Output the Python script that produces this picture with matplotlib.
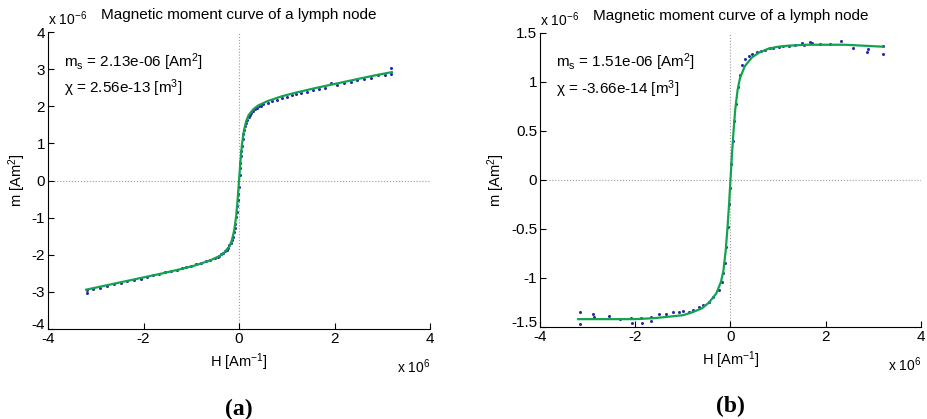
import matplotlib
matplotlib.use("Agg")
import matplotlib.pyplot as plt
from matplotlib.transforms import ScaledTranslation

# H in units of 1e6 A/m, m in units of 1e-6 Am^2

# panel (a): measured points
h_a = [-3.18, -3.18, -3.05, -2.92, -2.77, -2.62, -2.48, -2.34, -2.2, -2.06, -1.93,
       -1.8, -1.68, -1.55, -1.42, -1.3, -1.2, -1.1, -1.0, -0.9, -0.8, -0.7, -0.6,
       -0.5, -0.41, -0.33, -0.26, -0.2, -0.15, -0.11, -0.08, -0.05, -0.03, -0.01,
       0.01, 0.03, 0.05, 0.08, 0.11, 0.15, 0.2, 0.26, 0.33, 0.41, 0.5, 0.6, 0.7,
       0.8, 0.9, 1.0, 1.1, 1.2, 1.3, 1.42, 1.55, 1.68, 1.8, 1.93, 2.06, 2.2, 2.34,
       2.48, 2.62, 2.77, 2.92, 3.05, 3.18, 3.18,
       -0.45, -0.37, -0.29, -0.23, -0.17, -0.13, -0.09, -0.06, -0.04, -0.02,
       0.02, 0.04, 0.06, 0.09, 0.13, 0.17, 0.23, 0.29, 0.37, 0.45]
m_a = [-3.02, -2.94, -2.92, -2.89, -2.85, -2.80, -2.75, -2.72, -2.67, -2.64, -2.60,
       -2.55, -2.52, -2.47, -2.44, -2.40, -2.37, -2.33, -2.30, -2.26, -2.22, -2.18, -2.14,
       -2.09, -2.03, -1.96, -1.86, -1.74, -1.60, -1.40, -1.18, -0.85, -0.52, -0.18,
       0.15, 0.48, 0.80, 1.13, 1.36, 1.55, 1.70, 1.82, 1.92, 2.00, 2.05, 2.10, 2.14,
       2.18, 2.22, 2.26, 2.29, 2.32, 2.36, 2.39, 2.43, 2.47, 2.50, 2.62, 2.58, 2.63, 2.65,
       2.71, 2.73, 2.77, 2.84, 2.85, 3.02, 2.86,
       -2.07, -1.99, -1.90, -1.81, -1.67, -1.52, -1.28, -0.98, -0.69, -0.36,
       0.33, 0.65, 0.94, 1.24, 1.48, 1.62, 1.77, 1.87, 1.96, 2.02]

# panel (a): fitted curve
hf_a = [-3.2, -2.8, -2.4, -2.0, -1.6, -1.2, -0.9, -0.6, -0.4, -0.3, -0.2, -0.15,
        -0.1, -0.06, -0.03, 0.0, 0.03, 0.06, 0.1, 0.15, 0.2, 0.3, 0.4, 0.6, 0.9,
        1.2, 1.6, 2.0, 2.4, 2.8, 3.2]
mf_a = [-2.94, -2.83, -2.72, -2.61, -2.50, -2.38, -2.28, -2.15, -2.03, -1.93, -1.77, -1.61,
        -1.34, -0.96, -0.53, 0.0, 0.52, 0.95, 1.33, 1.60, 1.76, 1.92, 2.02, 2.14, 2.27,
        2.37, 2.49, 2.60, 2.71, 2.82, 2.92]

# panel (b): measured points
h_b = [-3.17, -3.17, -2.88, -2.86, -2.56, -2.32, -2.09, -2.07, -1.88, -1.85, -1.67,
       -1.67, -1.51, -1.36, -1.21, -1.09, -0.99, -0.88, -0.78, -0.67, -0.57, -0.46,
       -0.36, -0.25, -0.18, -0.15, -0.12, -0.09, -0.06, -0.03, -0.01,
       0.02, 0.05, 0.08, 0.11, 0.15, 0.19, 0.25, 0.31, 0.38, 0.46, 0.55, 0.64, 0.73,
       0.82, 0.9, 1.01, 1.11, 1.23, 1.36, 1.51, 1.55, 1.68, 1.72, 1.88, 2.09, 2.32,
       2.58, 2.86, 2.88, 3.2, 3.2]
m_b = [-1.35, -1.47, -1.37, -1.40, -1.39, -1.42, -1.41, -1.46, -1.41, -1.46, -1.40,
       -1.44, -1.37, -1.37, -1.35, -1.35, -1.34, -1.35, -1.33, -1.30, -1.28, -1.24,
       -1.19, -1.12, -1.04, -0.95, -0.85, -0.68, -0.48, -0.24, -0.08,
       0.16, 0.40, 0.60, 0.78, 0.95, 1.07, 1.17, 1.23, 1.27, 1.29, 1.31, 1.32, 1.33,
       1.35, 1.35, 1.36, 1.37, 1.37, 1.38, 1.40, 1.38, 1.41, 1.40, 1.39, 1.39, 1.42,
       1.35, 1.31, 1.34, 1.37, 1.29]

# panel (b): fitted curve
hf_b = [-3.2, -2.8, -2.4, -2.0, -1.6, -1.2, -1.0, -0.8, -0.6, -0.45, -0.3, -0.2,
        -0.15, -0.1, -0.06, -0.03, 0.0, 0.03, 0.06, 0.1, 0.15, 0.2, 0.3, 0.45, 0.6,
        0.8, 1.0, 1.2, 1.6, 2.0, 2.4, 2.8, 3.2]
mf_b = [-1.42, -1.42, -1.42, -1.42, -1.41, -1.39, -1.38, -1.35, -1.31, -1.25, -1.16, -1.04,
        -0.93, -0.72, -0.47, -0.25, 0.0, 0.25, 0.47, 0.72, 0.92, 1.04, 1.16, 1.25, 1.30,
        1.34, 1.36, 1.37, 1.38, 1.38, 1.38, 1.37, 1.36]

title = "Magnetic moment curve of a lymph node"
xticks = [-4, -2, 0, 2, 4]
yticks_a = [-4, -3, -2, -1, 0, 1, 2, 3, 4]
yticks_b = [-1.5, -1, -0.5, 0, 0.5, 1, 1.5]
ylabels_b = ["-1.5", "-1", "-0.5", "0", "0.5", "1", "1.5"]

plt.rcParams["font.family"] = ["Liberation Sans", "DejaVu Sans"]
plt.rcParams["mathtext.default"] = "regular"

DOT = "#2a2aa8"
FIT = "#12a34f"

fig = plt.figure(figsize=(9.27, 4.19), dpi=100)


def panel(rect, h, m, hf, mf, yticks, ylabels, ylim, ms_txt, chi_txt, tag):
    ax = fig.add_axes(rect)
    ax.axvline(0, color="#999999", linestyle=":", linewidth=0.8, zorder=1)
    ax.axhline(0, color="#999999", linestyle=":", linewidth=0.8, zorder=1)
    ax.plot(h, m, linestyle="none", marker="o", markersize=2.2, color=DOT,
            markeredgewidth=0, zorder=2)
    ax.plot(hf, mf, color=FIT, linewidth=1.6, zorder=3)
    ax.set_xlim(-4, 4)
    ax.set_ylim(*ylim)
    ax.set_xticks(xticks)
    ax.set_xticklabels([str(t) for t in xticks])
    ax.set_yticks(yticks)
    ax.set_yticklabels(ylabels)
    for s in ("top", "right"):
        ax.spines[s].set_visible(False)
    for s in ("left", "bottom"):
        ax.spines[s].set_linewidth(0.8)
    ax.tick_params(direction="in", length=4, width=0.8, labelsize=11, pad=2)
    # lowest y label sits a little above the corner, as in the original
    low = ax.get_yticklabels()[0]
    low.set_transform(low.get_transform()
                      + ScaledTranslation(0, 4 / 72, fig.dpi_scale_trans))
    ax.set_xlabel("H [Am$^{-1}$]", fontsize=10.5, labelpad=4)
    ax.set_ylabel("m [Am$^{2}$]", fontsize=10.5, labelpad=3)
    ax.text(0.5, 1.035, title, transform=ax.transAxes, ha="center",
            va="bottom", fontsize=11)
    ax.text(0.0, 1.015, "x 10$^{-6}$", transform=ax.transAxes, ha="left",
            va="bottom", fontsize=10)
    ax.text(1.0, -0.095, "x 10$^{6}$", transform=ax.transAxes, ha="right",
            va="top", fontsize=10)
    ax.text(0.042, 0.9, ms_txt, transform=ax.transAxes, ha="left",
            va="center", fontsize=11)
    ax.text(0.042, 0.81, chi_txt, transform=ax.transAxes, ha="left",
            va="center", fontsize=11)
    ax.text(0.5, -0.27, tag, transform=ax.transAxes, ha="center", va="center",
            fontsize=17, fontweight="bold", family="Liberation Serif")
    return ax


panel([0.0518, 0.2148, 0.4121, 0.7088], h_a, m_a, hf_a, mf_a, yticks_a,
      [str(t) for t in yticks_a], (-4, 4),
      "m$_{s}$ = 2.13e-06 [Am$^{2}$]", "χ = 2.56e-13 [m$^{3}$]", "(a)")
panel([0.5825, 0.2196, 0.4110, 0.7017], h_b, m_b, hf_b, mf_b, yticks_b,
      ylabels_b, (-1.5, 1.5),
      "m$_{s}$ = 1.51e-06 [Am$^{2}$]", "χ = -3.66e-14 [m$^{3}$]", "(b)")

fig.savefig("out.png", dpi=100)
